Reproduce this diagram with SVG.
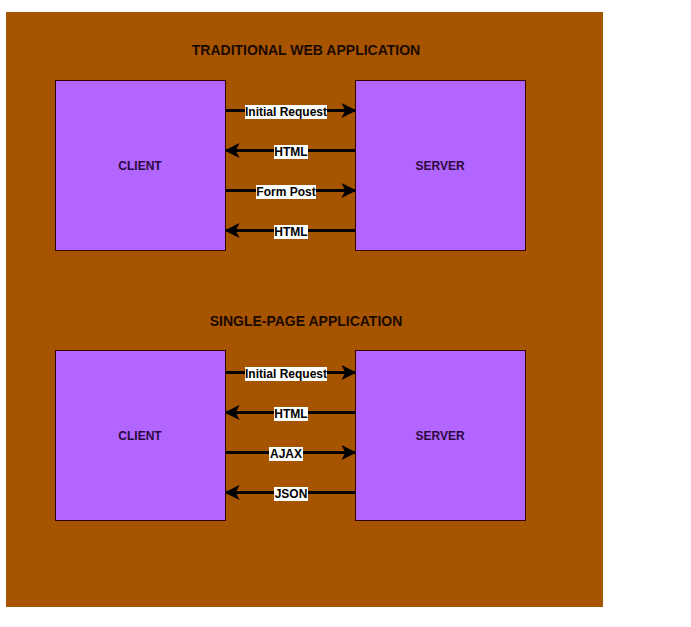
<svg xmlns="http://www.w3.org/2000/svg" width="691" height="627" viewBox="0 0 691 627">
<defs>
<style>
.box{fill:#b266ff;stroke:#330000;stroke-width:1}
.title{font-family:"Liberation Sans",Arial,sans-serif;font-size:14px;font-weight:bold;fill:#1a0a00;text-anchor:middle}
.nl{font-family:"Liberation Sans",Arial,sans-serif;font-size:12px;font-weight:bold;fill:#2a0a40;text-anchor:middle}
.el{font-family:"Liberation Sans",Arial,sans-serif;font-size:12px;font-weight:bold;fill:#000;text-anchor:middle}
.edge{stroke:#000;stroke-width:3;fill:none;marker-end:url(#ah)}
.lbg{fill:#fff}
</style>
<marker id="ah" viewBox="0 0 10 10" refX="9" refY="5" markerWidth="5" markerHeight="5" markerUnits="strokeWidth" orient="auto">
<path d="M0,0 L10,5 L0,10 L2.5,5 Z" fill="#000"/>
</marker>
</defs>
<rect x="6" y="12" width="597" height="595" fill="#a65400"/>
<text class="title" x="306" y="55">TRADITIONAL WEB APPLICATION</text>
<text class="title" x="306" y="326">SINGLE-PAGE APPLICATION</text>
<g id="client1"><rect class="box" x="55.5" y="80.5" width="170" height="170"/><text class="nl" x="140" y="170">CLIENT</text></g>
<g id="server1"><rect class="box" x="355.5" y="80.5" width="170" height="170"/><text class="nl" x="440" y="170">SERVER</text></g>
<g id="client2"><rect class="box" x="55.5" y="350.5" width="170" height="170"/><text class="nl" x="140" y="440">CLIENT</text></g>
<g id="server2"><rect class="box" x="355.5" y="350.5" width="170" height="170"/><text class="nl" x="440" y="440">SERVER</text></g>
<g id="connectors">
<path class="edge" d="M226,110.5 L355,110.5"/>
<path class="edge" d="M355,150.5 L226,150.5"/>
<path class="edge" d="M226,190.5 L355,190.5"/>
<path class="edge" d="M355,230.5 L226,230.5"/>
<path class="edge" d="M226,372.5 L355,372.5"/>
<path class="edge" d="M355,412.5 L226,412.5"/>
<path class="edge" d="M226,452.5 L355,452.5"/>
<path class="edge" d="M355,492.5 L226,492.5"/>
<rect class="lbg" x="245" y="105" width="82" height="14"/><text class="el" x="286" y="116">Initial Request</text>
<rect class="lbg" x="274" y="145" width="34" height="14"/><text class="el" x="291" y="156">HTML</text>
<rect class="lbg" x="256" y="185" width="60" height="14"/><text class="el" x="286" y="196">Form Post</text>
<rect class="lbg" x="274" y="225" width="34" height="14"/><text class="el" x="291" y="236">HTML</text>
<rect class="lbg" x="245" y="367" width="82" height="14"/><text class="el" x="286" y="378">Initial Request</text>
<rect class="lbg" x="274" y="407" width="34" height="14"/><text class="el" x="291" y="418">HTML</text>
<rect class="lbg" x="269" y="447" width="34" height="14"/><text class="el" x="286" y="458">AJAX</text>
<rect class="lbg" x="274" y="487" width="34" height="14"/><text class="el" x="291" y="498">JSON</text>
</g>
</svg>
